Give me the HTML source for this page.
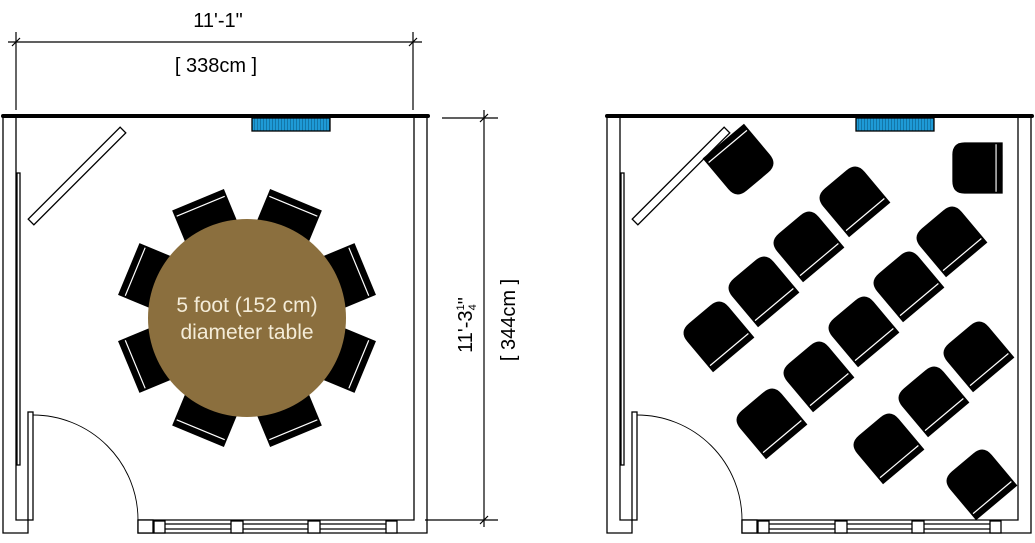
<!DOCTYPE html>
<html><head><style>body{margin:0;background:#fff}svg{display:block}text{font-family:"Liberation Sans",sans-serif}</style></head><body>
<svg width="1035" height="543" viewBox="0 0 1035 543" xmlns="http://www.w3.org/2000/svg">
<defs>
<g id="tc"><rect x="78" y="-28" width="50" height="56" fill="#000"/><line x1="121" y1="-26" x2="121" y2="26" stroke="#fff" stroke-width="1.2"/></g>
<g id="ch"><path d="M-27,26 L-27,-14 Q-27,-27 -14,-27 L14,-27 Q27,-27 27,-14 L27,26 Z" fill="#000"/><line x1="-25" y1="19" x2="25" y2="19" stroke="#fff" stroke-width="1.2"/></g>
<pattern id="rad" width="3" height="14" patternUnits="userSpaceOnUse"><rect width="3" height="14" fill="#1e9ad6"/><line x1="2.5" y1="0" x2="2.5" y2="14" stroke="#0d5f8a" stroke-width="0.6"/></pattern>
</defs>
<g fill="none" stroke="#000" stroke-width="1.2">
<line x1="8" y1="42" x2="422" y2="42"/><line x1="16" y1="32" x2="16" y2="110"/><line x1="413" y1="32" x2="413" y2="110"/>
<line x1="12" y1="46" x2="20" y2="38"/><line x1="409" y1="46" x2="417" y2="38"/>
<line x1="484" y1="110" x2="484" y2="527"/><line x1="442" y1="118" x2="498" y2="118"/><line x1="425" y1="520" x2="498" y2="520"/>
<line x1="480" y1="122" x2="488" y2="114"/><line x1="480" y1="524" x2="488" y2="516"/>
</g>
<text x="218" y="27" font-size="20" text-anchor="middle">11'-1"</text>
<text x="216" y="72" font-size="20" text-anchor="middle">[ 338cm ]</text>
<text transform="translate(472 325) rotate(-90)" font-size="20" text-anchor="middle">11'-3<tspan font-size="11" dy="-8">1</tspan><tspan font-size="11" dx="-6" dy="12">4</tspan><tspan dy="-4">"</tspan></text>
<text transform="translate(515 320) rotate(-90)" font-size="20" text-anchor="middle">[ 344cm ]</text>

<g id="room" fill="none" stroke="#000" stroke-width="1.3">
<line x1="3" y1="116" x2="428" y2="116" stroke-width="4" stroke-linecap="round"/>
<polyline points="3,117 3,533 28,533 28,520 16,520 16,118"/>
<rect x="17" y="173" width="3" height="292"/>
<rect x="28" y="412" width="5" height="108"/>
<path d="M33,415 A105,105 0 0 1 138,520" stroke-width="0.9"/>
<polyline points="427,117 427,533 138,533 138,520 414,520 414,118"/>
<line x1="165" y1="524" x2="386" y2="524"/><line x1="165" y1="529" x2="386" y2="529"/>
<rect x="138" y="520" width="15" height="13" fill="#fff"/>
<rect x="154" y="521" width="11" height="12" fill="#fff"/>
<rect x="231" y="521" width="12" height="12" fill="#fff"/>
<rect x="308" y="521" width="12" height="12" fill="#fff"/>
<rect x="386" y="521" width="11" height="12" fill="#fff"/>
<rect x="252" y="118" width="78" height="13" fill="url(#rad)"/>
<g transform="translate(77 176) rotate(-45)"><rect x="-65" y="-4" width="130" height="8" fill="#fff"/></g>
</g>
<use href="#room" x="604"/>

<g transform="translate(247 318)">
<use href="#tc" transform="rotate(-112.5)"/><use href="#tc" transform="rotate(-67.5)"/>
<use href="#tc" transform="rotate(-22.5)"/><use href="#tc" transform="rotate(22.5)"/>
<use href="#tc" transform="rotate(67.5)"/><use href="#tc" transform="rotate(112.5)"/>
<use href="#tc" transform="rotate(157.5)"/><use href="#tc" transform="rotate(202.5)"/>
<circle r="99" fill="#8b6f3e"/>
<text y="-6" font-size="21" fill="#f4ecd8" text-anchor="middle">5 foot (152 cm)</text>
<text y="21" font-size="21" fill="#f4ecd8" text-anchor="middle">diameter table</text>
</g>

<use href="#ch" transform="translate(740 161) rotate(140)"/>
<use href="#ch" transform="translate(978 168) rotate(-90) scale(0.95)"/>
<use href="#ch" transform="translate(853 200) rotate(-40)"/>
<use href="#ch" transform="translate(807 245) rotate(-40)"/>
<use href="#ch" transform="translate(762 290) rotate(-40)"/>
<use href="#ch" transform="translate(717 335) rotate(-40)"/>
<use href="#ch" transform="translate(950 240) rotate(-40)"/>
<use href="#ch" transform="translate(907 285) rotate(-40)"/>
<use href="#ch" transform="translate(862 330) rotate(-40)"/>
<use href="#ch" transform="translate(817 375) rotate(-40)"/>
<use href="#ch" transform="translate(770 422) rotate(-40)"/>
<use href="#ch" transform="translate(977 355) rotate(-40)"/>
<use href="#ch" transform="translate(932 400) rotate(-40)"/>
<use href="#ch" transform="translate(887 447) rotate(-40)"/>
<use href="#ch" transform="translate(980 483) rotate(-40)"/>
</svg>
</body></html>
